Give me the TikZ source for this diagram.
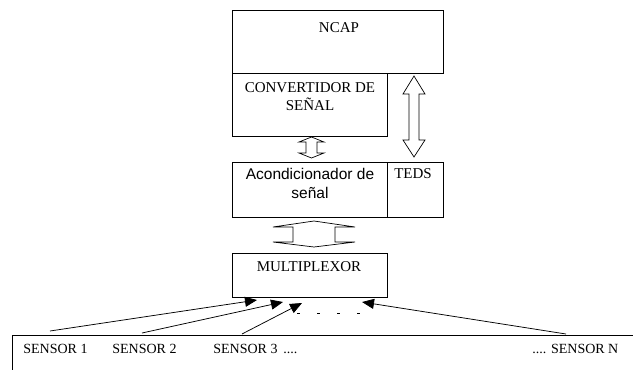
\documentclass[tikz,border=0pt]{standalone}
\usepackage{fontspec}
\setmainfont{Liberation Serif}
\newfontfamily\arialfont{Liberation Sans}
\usetikzlibrary{arrows.meta}

\begin{document}
\begin{tikzpicture}[x=1pt, y=-1pt, line width=0.8pt,
  blockbox/.style={draw, rectangle, inner sep=0pt, anchor=north west},
  lbl/.style={font=\fontsize{15}{18}\selectfont, inner sep=0pt, anchor=base},
  sanslbl/.style={font=\arialfont\fontsize{15.5}{20}\selectfont, inner sep=0pt, anchor=base},
  sensorlbl/.style={font=\fontsize{14}{17}\selectfont, inner sep=0pt, anchor=base west},
  feed/.style={-{Triangle[length=12pt, width=10pt]}, line width=0.75pt},
  blockarrow/.style={draw, line width=0.7pt, fill=white, line join=miter}]

\useasboundingbox (0,0) rectangle (633,370);
\fill[white] (0,0) rectangle (633,370);

% Boxes
\node[blockbox, minimum width=211pt, minimum height=63pt] (ncap) at (232,10) {};
\node[blockbox, minimum width=155pt, minimum height=63pt] (conv) at (232,73) {};
\node[blockbox, minimum width=211pt, minimum height=55pt] (acond) at (232,162) {};
\node[blockbox, minimum width=56pt, minimum height=55pt] (teds) at (387,162) {};
\node[blockbox, minimum width=155pt, minimum height=44pt] (mux) at (232,253) {};

% Box texts
\node[lbl] (ncaptxt) at (339,32) {NCAP};
\node[lbl] (convtxt1) at (310,92) {CONVERTIDOR DE};
\node[lbl] (convtxt2) at (310,110) {SEÑAL};
\node[sanslbl] (acondtxt1) at (310,179) {Acondicionador de};
\node[sanslbl] (acondtxt2) at (310,198) {señal};
\node[lbl] (tedstxt) at (413,178) {TEDS};
\node[lbl] (muxtxt) at (309,271) {MULTIPLEXOR};

% Block double arrows
\path[blockarrow] (414,76) -- (425,94) -- (419,94) -- (419,140) -- (425,140)
  -- (414,157) -- (403,140) -- (409,140) -- (409,94) -- (403,94) -- cycle;
\path[blockarrow] (311.5,137) -- (324,142) -- (317,142) -- (317,153) -- (324,153)
  -- (311.5,158) -- (299,153) -- (306,153) -- (306,142) -- (299,142) -- cycle;
\path[blockarrow] (314,221) -- (355,227) -- (335,227) -- (335,242) -- (355,242)
  -- (314,247) -- (273,242) -- (293,242) -- (293,227) -- (273,227) -- cycle;

% Sensor bus
\coordinate (busL) at (12,335);
\coordinate (busR) at (633,335);
\coordinate (busB) at (12,370);
\draw[line width=0.7pt] (busB) -- (busL) -- (busR);

\node[sensorlbl] (sen1) at (23,353) {SENSOR 1};
\node[sensorlbl] (sen2) at (112,353) {SENSOR 2};
\node[sensorlbl] (sen3) at (213,353) {SENSOR 3 \,....};
\node[sensorlbl] (senN) at (532,353) {.... SENSOR N};

% Sensor feeds into the multiplexer
\coordinate (s1) at (50,331);
\coordinate (s2) at (142,333);
\coordinate (s3) at (242,334);
\coordinate (sN) at (566,334);
\coordinate (m1) at (257,300);
\coordinate (m2) at (283,302);
\coordinate (m3) at (302,303);
\coordinate (mN) at (362,302);
\draw[feed] (s1) -- (m1);
\draw[feed] (s2) -- (m2);
\draw[feed] (s3) -- (m3);
\draw[feed] (sN) -- (mN);

\coordinate (dotsL) at (297,313);
\coordinate (dotsR) at (362,313);
\draw[line width=0.7pt, dash pattern=on 3pt off 17pt] (dotsL) -- (dotsR);
\end{tikzpicture}
\end{document}
